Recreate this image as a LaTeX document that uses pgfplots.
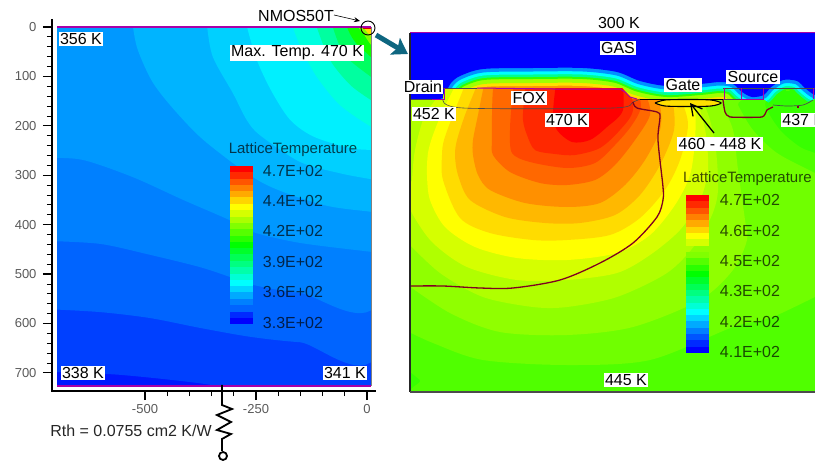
\documentclass[border=0pt]{standalone}
\usepackage{fontspec}
\setmainfont{Liberation Sans}
\usepackage{pgfplots}
\usepackage{pgfplotstable}
\pgfplotsset{compat=1.18}
\usetikzlibrary{arrows.meta}

% colour bar levels, blue to red
\definecolor{p0}{HTML}{0000FF}\definecolor{p1}{HTML}{002AFF}\definecolor{p2}{HTML}{0055FF}
\definecolor{p3}{HTML}{0080FF}\definecolor{p4}{HTML}{00AAFF}\definecolor{p5}{HTML}{00D5FF}
\definecolor{p6}{HTML}{00FFFF}\definecolor{p7}{HTML}{00FFD5}\definecolor{p8}{HTML}{00FFAA}
\definecolor{p9}{HTML}{00FF80}\definecolor{p10}{HTML}{00FF55}\definecolor{p11}{HTML}{00FF2A}
\definecolor{p12}{HTML}{00FF00}\definecolor{p13}{HTML}{2AFF00}\definecolor{p14}{HTML}{55FF00}
\definecolor{p15}{HTML}{80FF00}\definecolor{p16}{HTML}{AAFF00}\definecolor{p17}{HTML}{D5FF00}
\definecolor{p18}{HTML}{FFFF00}\definecolor{p19}{HTML}{FFD500}\definecolor{p20}{HTML}{FFAA00}
\definecolor{p21}{HTML}{FF8000}\definecolor{p22}{HTML}{FF5500}\definecolor{p23}{HTML}{FF2A00}
\definecolor{p24}{HTML}{FF0000}
\definecolor{mag}{HTML}{A800A8}
\definecolor{junc}{HTML}{800020}
\definecolor{teal1}{HTML}{0E6680}
% contour colours, named by their own hex value
\newcommand\hc[1]{\definecolor{#1}{HTML}{#1}}
\hc{0040FF}\hc{0064FF}\hc{0080FF}\hc{0098FF}\hc{00B4FF}\hc{00D0FF}\hc{00F0FF}\hc{00FFE0}
\hc{00FFA0}\hc{00FF60}\hc{10FF00}\hc{80FF00}\hc{FFE000}\hc{FF9800}\hc{A0FF00}\hc{30FF00}
\hc{00FF90}\hc{00FFFF}\hc{0090FF}\hc{38FF00}\hc{50FF00}\hc{70FF00}\hc{90FF00}\hc{B0FF00}
\hc{D5FF00}\hc{FFFF00}\hc{FFDC00}\hc{FFB800}\hc{FF9000}\hc{FF6800}\hc{FF4800}\hc{FF2800}\hc{FF0000}

% lower edge of the blue gas, right panel
\pgfplotstableread{
x y
395 99
410 99
440 99
446 92
451 83
460 76
483 69
533 68
583 68
617 72
640 81
667 86
700 84
720 82
733 84
742 92
752 97
764 95
770 88
783 80
797 81
805 88
815 95
835 100
835 15
395 15
}\gasedge

% one colour bar step
\newcommand\cbl[3]{\addplot[fill=#1,draw=none] coordinates {(-309,#2) (-257,#2) (-257,#3) (-309,#3)};}
\newcommand\cbr[3]{\addplot[fill=#1,draw=none] coordinates {(686,#2) (709,#2) (709,#3) (686,#3)};}
\newcommand\band[2]{\addplot[fill=#1,draw=none,smooth,tension=0.5] coordinates {#2};}
% label in picture pixels, y from the top
\newcommand\lab[4][]{\node[fill=white,inner sep=1.2pt,font=\fontsize{16}{16}\selectfont,#1] at (#2,461-#3) {#4};}
\newcommand\leg[3]{\node[font=\fontsize{16}{16}\selectfont,text=black,text opacity=0.7,inner sep=0pt] at (#1,461-#2) {#3};}

\begin{document}
\begin{tikzpicture}[x=1pt,y=1pt]
\path[use as bounding box] (0,0) rectangle (815,461);

% left panel: whole device
\begin{axis}[
  at={(52pt,70pt)},anchor=south west,
  scale only axis,width=324pt,height=372pt,
  xmin=-709.5,xmax=20.3,ymin=-16.2,ymax=736.7,
  y dir=reverse,
  axis x line=bottom,axis y line=left,
  axis line style={-,line width=1.5pt,black},
  x axis line style={draw=none},
  xtick={-500,-250,0},ytick={0,100,200,300,400,500,600,700},
  minor x tick num=4,minor y tick num=4,
  tick align=outside,
  major tick length=9pt,minor tick length=5pt,
  every tick/.style={black,line width=0.8pt},
  major tick style={line width=1.2pt},
  tick label style={font=\fontsize{13}{13}\selectfont,text=black!65},
  yticklabel style={xshift=-3pt},
  xticklabel style={anchor=north,yshift=-1pt},
  /pgf/number format/assume math mode=true,
]
\begin{scope}
\clip (axis cs:-698,0) rectangle (axis cs:9,727);
\addplot[fill=p1!60!p0,draw=none] coordinates {(-720,-20) (30,-20) (30,745) (-720,745)};
\band{0040FF}{(-720,698) (-556,704) (-347,725) (-300,745) (30,745) (30,-20) (-720,-20)}
\band{0064FF}{(-720,571) (-601,577) (-489,589) (-376,609) (-263,627) (-151,638) (30,646) (30,-20) (-720,-20)}
\band{0080FF}{(-720,433) (-601,439) (-489,461) (-376,486) (-302,508) (-257,522) (-151,538) (30,546) (30,-20) (-720,-20)}
\band{0098FF}{(-720,265) (-640,269) (-527,304) (-414,350) (-309,391) (-257,415) (-151,437) (9,455) (30,457) (30,-20) (-720,-20)}
\band{00B4FF}{(-527,-20) (-527,0) (-516,47) (-482,113) (-428,174) (-360,235) (-234,316) (-99,360) (9,374) (30,378) (30,-20)}
\band{00D0FF}{(-360,-20) (-360,0) (-347,61) (-302,134) (-271,188) (-241,219) (-151,273) (-61,296) (9,308) (30,311) (30,-20)}
\band{00F0FF}{(-270,-20) (-270,0) (-248,67) (-215,130) (-173,188) (-120,222) (-38,245) (9,249) (30,252) (30,-20)}
\band{00FFE0}{(-167,-20) (-167,0) (-146,47) (-113,101) (-61,158) (9,202) (30,210) (30,-20)}
\band{00FFA0}{(-113,-20) (-113,0) (-83,67) (-38,117) (9,148) (30,160) (30,-20)}
\band{00FF60}{(-77,-20) (-77,0) (-50,57) (9,101) (30,115) (30,-20)}
\band{10FF00}{(-45,-20) (-45,0) (-27,30) (9,61) (30,80) (30,-20)}
\band{80FF00}{(-20,-20) (-20,0) (-9,12) (9,36) (30,50) (30,-20)}
\band{FFE000}{(-8,-20) (-8,0) (-2,8) (9,18) (30,30) (30,-20)}
\addplot[fill=p24!85!black,draw=none] coordinates {(-8,-5) (-8,4) (8,4) (8,-5)};
\end{scope}
\addplot[black!50,line width=0.7pt] coordinates {(9,0) (9,727)};
\addplot[mag,line width=1.6pt] coordinates {(-698,0) (9,0)};
\addplot[mag,line width=1.6pt] coordinates {(-698,727) (9,727)};
\cbl{p24}{281}{294}\cbl{p23}{294}{307}\cbl{p22}{307}{320}\cbl{p21}{320}{332}\cbl{p20}{332}{345}
\cbl{p19}{345}{358}\cbl{p18}{358}{371}\cbl{p17}{371}{384}\cbl{p16}{384}{396}\cbl{p15}{396}{409}
\cbl{p14}{409}{422}\cbl{p13}{422}{435}\cbl{p12}{435}{448}\cbl{p11}{448}{460}\cbl{p10}{460}{473}
\cbl{p9}{473}{486}\cbl{p8}{486}{499}\cbl{p7}{499}{512}\cbl{p6}{512}{524}\cbl{p5}{524}{537}
\cbl{p4}{537}{550}\cbl{p3}{550}{563}\cbl{p1}{576}{588}\cbl{p0}{588}{601}
\end{axis}
% x axis line of the left panel
\draw[black,line width=1.5pt] (51.3,70) -- (376,70);

% right panel: zoom on the device surface, no scale in the original
\begin{axis}[
  at={(410pt,69pt)},anchor=south west,
  scale only axis,width=405pt,height=359pt,
  xmin=410,xmax=815,ymin=33,ymax=392,
  y dir=reverse,hide axis,
]
\addplot[fill=p0,draw=none] coordinates {(400,20) (830,20) (830,400) (400,400)};
\addplot[draw=FF9800,line width=44pt,smooth,line join=round] table {\gasedge};
\addplot[draw=FFE000,line width=36pt,smooth,line join=round] table {\gasedge};
\addplot[draw=A0FF00,line width=30pt,smooth,line join=round] table {\gasedge};
\addplot[draw=30FF00,line width=22pt,smooth,line join=round] table {\gasedge};
% low bulge by the source stays green
\addplot[fill=30FF00,draw=none] coordinates {(764,91) (830,91) (830,115) (764,115)};
\addplot[draw=00FF90,line width=18pt,smooth,line join=round] table {\gasedge};
\addplot[draw=00FFFF,line width=13pt,smooth,line join=round] table {\gasedge};
\addplot[draw=0090FF,line width=7pt,smooth,line join=round] table {\gasedge};
\addplot[fill=p0,draw=none,smooth] table {\gasedge};
\begin{scope}
% silicon and oxide, below the surface
\clip (axis cs:410,99) -- (axis cs:443,99) -- (axis cs:445,88) -- (axis cs:622,88) -- (axis cs:632,99)
  -- (axis cs:763,99) -- (axis cs:770,104) -- (axis cs:785,106) -- (axis cs:800,105) -- (axis cs:815,99)
  -- (axis cs:815,392) -- (axis cs:410,392) -- cycle;
\addplot[fill=38FF00,draw=none] coordinates {(400,60) (830,60) (830,400) (400,400)};
\band{50FF00}{(405,368) (420,380) (440,398) (830,398) (830,160) (815,153) (800,147) (780,130) (765,105) (760,70) (405,70)}
\band{70FF00}{(405,330) (433,343) (483,360) (567,365) (650,360) (733,327) (770,318) (815,297) (830,290) (830,180) (815,173) (777,153) (753,130) (738,105) (730,85) (405,70)}
\band{90FF00}{(405,283) (450,313) (500,332) (567,335) (633,327) (700,300) (733,270) (747,240) (745,220) (738,170) (733,130) (722,105) (715,85) (405,70)}
\band{B0FF00}{(405,240) (440,273) (483,297) (533,307) (567,307) (617,297) (667,273) (695,245) (712,215) (718,190) (716,150) (710,120) (702,99) (695,80) (405,70)}
\band{D5FF00}{(405,195) (413,215) (433,243) (467,267) (517,280) (567,280) (617,273) (650,255) (680,230) (700,200) (708,170) (706,135) (700,110) (693,80) (448,75) (443,90) (425,115) (415,150) (412,180)}
\band{FFFF00}{(458,75) (453,90) (443,110) (433,135) (428,153) (427,175) (430,200) (445,227) (475,247) (517,258) (567,260) (617,253) (650,235) (675,205) (690,175) (695,140) (695,110) (688,99) (680,75)}
\band{FFDC00}{(468,75) (463,90) (453,115) (444,140) (442,155) (443,180) (460,218) (490,233) (533,240) (567,240) (610,235) (640,218) (665,190) (680,160) (688,125) (681,99) (670,75)}
\band{FFB800}{(480,75) (475,90) (465,115) (457,140) (455,155) (458,175) (470,200) (505,217) (545,223) (580,223) (615,215) (640,195) (660,165) (674,130) (672,99) (660,75)}
\band{FF9000}{(487,75) (483,90) (478,115) (473,140) (473,155) (478,175) (490,190) (525,203) (567,207) (600,203) (625,185) (645,160) (660,130) (660,105) (650,75)}
\band{FF6800}{(497,75) (493,90) (492,115) (492,140) (493,155) (510,172) (540,183) (567,185) (595,180) (615,165) (635,140) (650,115) (646,95) (635,75)}
\band{FF4800}{(515,75) (512,100) (510,130) (512,153) (530,162) (567,168) (595,163) (615,145) (632,125) (641,105) (632,75)}
\band{FF2800}{(527,75) (524,100) (523,120) (527,135) (535,150) (555,154) (575,155) (600,148) (620,130) (633,110) (628,75)}
\band{FF0000}{(557,75) (553,113) (557,130) (572,142) (590,140) (607,127) (623,110) (622,75)}
\end{scope}
% surface, oxide and junction lines
\addplot[black!70,line width=0.6pt] coordinates {(410,99) (443,99)};
\addplot[black!70,line width=0.6pt] coordinates {(443,88) (477,88)};
\addplot[black!70,line width=0.6pt] coordinates {(723,88) (815,88)};
\addplot[black!70,line width=0.6pt,smooth] coordinates {(443,99) (463,108) (613,108) (633,102) (640,99)};
\addplot[black,line width=1pt] coordinates {(640,99) (723,99)};
\addplot[black!70,line width=0.7pt] coordinates {(723,99) (741,99)};
\addplot[black!70,line width=0.7pt,smooth] coordinates {(773,105) (787,106) (803,105) (813,100)};
\addplot[mag,line width=1pt] coordinates {(477,88) (553,89) (620,89) (625,92) (630,97) (637,99)};
\addplot[mag,line width=1pt] coordinates {(432,99) (444,99) (444,88)};
\addplot[mag,line width=1pt] coordinates {(724,88) (724,99)};
\addplot[mag,line width=1pt] coordinates {(741,88) (741,99) (763,99) (763,88)};
\addplot[mag,line width=1pt] coordinates {(813,88) (813,99)};
\addplot[junc,line width=1.3pt,smooth,tension=0.5] coordinates {(633,102) (637,108) (657,112) (660,117) (658,140) (663,187) (663,200) (657,217) (633,243) (600,263) (560,280) (513,288) (480,288) (443,286) (411,286)};
\addplot[junc,line width=1.3pt,smooth,tension=0.3] coordinates {(723,100) (725,112) (730,117) (762,117) (767,110) (773,107)};
\addplot[junc,line width=1.6pt] coordinates {(798,106) (798,108)};
% gate oxide
\addplot[fill=FFE000,draw=black,line width=1.1pt,smooth] coordinates {(655,103) (665,100) (688,99.5) (711,100) (721,103) (711,106) (688,106.5) (665,106) (655,103)};
\cbr{p24}{195}{201}\cbr{p23}{201}{208}\cbr{p22}{208}{214}\cbr{p21}{214}{220}\cbr{p20}{220}{227}
\cbr{p19}{227}{233}\cbr{p18}{233}{239}\cbr{p17}{239}{246}\cbr{p15}{252}{258}
\cbr{p14}{258}{265}\cbr{p13}{265}{271}\cbr{p12}{271}{277}\cbr{p11}{277}{284}\cbr{p10}{284}{290}
\cbr{p9}{290}{296}\cbr{p8}{296}{303}\cbr{p7}{303}{309}\cbr{p6}{309}{315}\cbr{p5}{315}{321}
\cbr{p4}{321}{328}\cbr{p3}{328}{334}\cbr{p2}{334}{340}\cbr{p1}{340}{347}\cbr{p0}{347}{353}
\end{axis}

% panel frame, right
\draw[black!85,line width=1.5pt] (410,461-33) -- (410,461-392);
\draw[black!70,line width=1.2pt] (410,461-392) -- (815,461-392);
\draw[mag,line width=1pt] (410,461-33) -- (815,461-33);

% callouts
\draw[black,line width=0.9pt] (368,461-28) circle (7);
\draw[-{Stealth[length=6pt,width=5pt]},line width=0.6pt] (334,461-15) -- (360,461-21);
\draw[teal1,line width=5pt,-{Stealth[length=15pt,width=19pt,inset=3pt]}] (376,461-35) -- (408,461-54);
\draw[black,line width=1.3pt,-{Straight Barb[length=11pt,width=12pt]}] (714,461-133) -- (690,461-103);
% substrate thermal resistor
\draw[black,line width=1.8pt,line join=miter] (222,461-385) -- (222,461-405) -- (232,461-409) -- (217,461-415) -- (231,461-422) -- (217,461-430) -- (231,461-434) -- (222,461-439) -- (222,461-451);
\draw[black,line width=1.8pt] (223,461-456) circle (4);

% labels, left
\lab{81}{39}{356 K}
\lab{297}{53}{Max. Temp. 470 K}
\lab{83}{373}{338 K}
\lab{345}{373}{341 K}
\node[font=\fontsize{16}{16}\selectfont,inner sep=0pt] at (296,461-16) {NMOS50T};
\node[font=\fontsize{16}{16}\selectfont,inner sep=0pt,text=black!85] at (131,461-431) {Rth = 0.0755 cm2 K/W};
\node[font=\fontsize{15}{15}\selectfont,text=black,text opacity=0.7,inner sep=0pt] at (293,461-150) {LatticeTemperature};
\leg{293}{171}{4.7E+02}\leg{293}{201}{4.4E+02}\leg{293}{231}{4.2E+02}
\leg{293}{262}{3.9E+02}\leg{293}{292}{3.6E+02}\leg{293}{323}{3.3E+02}
% labels, right
\node[font=\fontsize{16}{16}\selectfont,inner sep=0pt] at (619,461-23) {300 K};
\lab{618}{48}{GAS}
\lab{753}{77}{Source}
\lab{683}{85}{Gate}
\lab{423}{87}{Drain}
\lab{529}{98}{FOX}
\lab{434}{114}{452 K}
\lab{567}{120}{470 K}
\lab[anchor=west]{781}{120}{437 K}
\lab{720}{144}{460 - 448 K}
\lab{626}{380}{445 K}
\node[font=\fontsize{15}{15}\selectfont,text=black,text opacity=0.7,inner sep=0pt,anchor=west] at (683,461-179) {LatticeTemperature};
\leg{750}{200}{4.7E+02}\leg{750}{231}{4.6E+02}\leg{750}{261}{4.5E+02}
\leg{750}{291}{4.3E+02}\leg{750}{322}{4.2E+02}\leg{750}{352}{4.1E+02}
\end{tikzpicture}
\end{document}
